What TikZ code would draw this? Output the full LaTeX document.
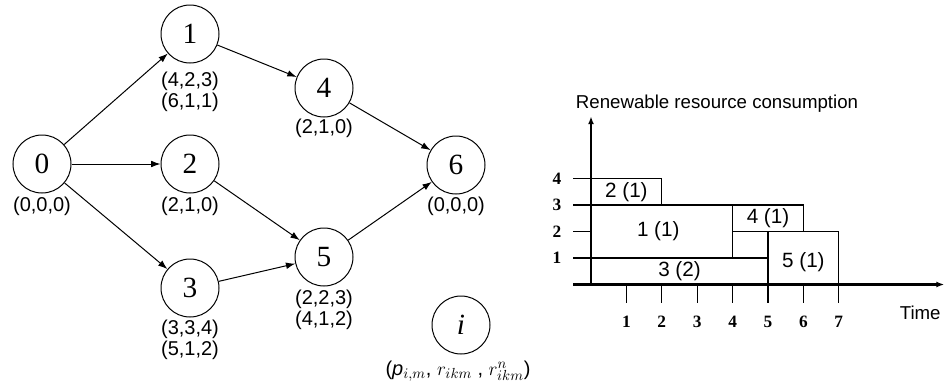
\documentclass[tikz,border=0pt]{standalone}
\usepackage{fontspec}
\setmainfont{Liberation Serif}
\setsansfont{Liberation Sans}
\usetikzlibrary{arrows.meta}

\begin{document}
\begin{tikzpicture}[
        x=0.75pt, y=-0.75pt,
        rel/.style={-{Latex[length=7pt,width=5pt]}, line width=0.75pt},
        task/.style={circle, draw, line width=0.75pt, minimum size=43.5pt, inner sep=0pt, font=\fontsize{22}{24}\selectfont},
        attr/.style={align=center, inner sep=0pt, font=\sffamily\fontsize{15}{16}\selectfont},
        timeaxis/.style={-{Latex[length=6pt,width=4.5pt]}, line width=1.6pt},
        slot/.style={draw, line width=0.8pt},
        tickline/.style={line width=0.8pt},
        lvl/.style={inner sep=0pt, font=\bfseries\fontsize{13}{15}\selectfont},
        job/.style={inner sep=0pt, font=\sffamily\fontsize{15.5}{17}\selectfont},
        caption/.style={inner sep=0pt, font=\sffamily\fontsize{14}{16}\selectfont}
      ]
        \useasboundingbox (0,0) rectangle (947,387);
        % project network
        \node[task] (n0) at (42,164) {0};
        \node[task] (n1) at (190,34) {1};
        \node[task] (n2) at (190,164) {2};
        \node[task] (n3) at (190,288) {3};
        \node[task] (n4) at (324,88) {4};
        \node[task] (n5) at (324,257) {5};
        \node[task] (n6) at (456,165) {6};
        \node[task] (ni) at (461,325) {\textit{i}};
        \node[attr] (a0) at (42,206) {(0,0,0)};
        \node[attr] (a1) at (190,92) {(4,2,3)\\(6,1,1)};
        \node[attr] (a2) at (190,206) {(2,1,0)};
        \node[attr] (a3) at (190,340) {(3,3,4)\\(5,1,2)};
        \node[attr] (a4) at (324,128) {(2,1,0)};
        \node[attr] (a5) at (324,310) {(2,2,3)\\(4,1,2)};
        \node[attr] (a6) at (456,206) {(0,0,0)};
        \node[attr] (ai) at (458,371) {(\textit{p}$_{i,m}$, $r_{ikm}$ , $r^{n}_{ikm}$)};
        \draw[rel] (n0) -- (n1);
        \draw[rel] (n0) -- (n2);
        \draw[rel] (n0) -- (n3);
        \draw[rel] (n1) -- (n4);
        \draw[rel] (n2) -- (n5);
        \draw[rel] (n3) -- (n5);
        \draw[rel] (n4) -- (n6);
        \draw[rel] (n5) -- (n6);
        % resource profile
        \begin{scope}[shift={(591,284.5)}, x=26.55pt, y=19.875pt]
          \draw[slot] (0,0) rectangle (5,1);
          \draw[slot] (0,1) rectangle (4,3);
          \draw[slot] (0,3) rectangle (2,4);
          \draw[slot] (4,2) rectangle (6,3);
          \draw[slot] (5,1) -- (5,2) -- (7,2) -- (7,0);
          \node[job] (j3) at (2.5,0.5) {3 (2)};
          \node[job] (j1) at (1.9,2) {1 (1)};
          \node[job] (j2) at (1,3.5) {2 (1)};
          \node[job] (j4) at (5,2.5) {4 (1)};
          \node[job] (j5) at (6,0.85) {5 (1)};
          \draw[timeaxis] (-0.5,0) -- (9.98,0);
          \draw[timeaxis] (0,0) -- (0,6.35);
          \foreach \r in {1,...,4} {
            \draw[tickline] (-0.5,\r) -- (0,\r);
            \node[lvl] (r\r) at (-0.96,\r) {\r};
          }
          \foreach \t in {1,...,7} {
            \draw[tickline] (\t,0) -- (\t,-0.7);
            \node[lvl] (t\t) at (\t,-1.42) {\t};
          }
          \node[caption] (ylab) at (3.56,6.81) {Renewable resource consumption};
          \node[caption] (xlab) at (9.3,-1.08) {Time};
        \end{scope}
      \end{tikzpicture}
\end{document}
